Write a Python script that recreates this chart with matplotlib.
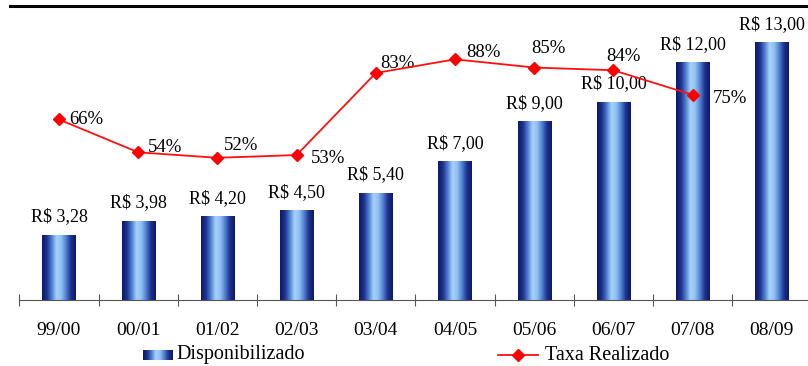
import numpy as np
import matplotlib

matplotlib.use("Agg")
import matplotlib.pyplot as plt
from matplotlib.colors import LinearSegmentedColormap
from matplotlib.lines import Line2D

plt.rcParams['font.family'] = ['Liberation Serif', 'DejaVu Serif']

# data
periods = ['99/00', '00/01', '01/02', '02/03', '03/04', '04/05', '05/06', '06/07', '07/08', '08/09']
disponibilizado = [3.28, 3.98, 4.20, 4.50, 5.40, 7.00, 9.00, 10.00, 12.00, 13.00]
taxa_realizado = [0.66, 0.54, 0.52, 0.53, 0.83, 0.88, 0.85, 0.84, 0.75]

# label offsets (pixels) for the percentage labels
pct_offsets = [(10, 0), (10, 5), (6, 12), (14, -3), (4, 10), (11, 7), (-3, 19), (-7, 14), (20, -4)]

gradient = LinearSegmentedColormap.from_list(
    'bar', ['#0e1868', '#1e3290', '#4f7fd0', '#a8d2fa', '#8fbff2', '#4f7fd0', '#1e3290', '#0e1868'])

fig = plt.figure(figsize=(8.08, 3.66), dpi=100)
ax = fig.add_axes([19.4 / 808, 1 - 300 / 366, 1 - 19.4 / 808, 294 / 366])

x = np.arange(len(periods))
width = 0.42

grad = np.linspace(0, 1, 64).reshape(1, -1)
bars = ax.bar(x, disponibilizado, width, color='none', edgecolor='none')
for b, v in zip(bars, disponibilizado):
    x0 = b.get_x()
    ax.imshow(grad, cmap=gradient, aspect='auto', extent=(x0, x0 + width, 0, v),
              zorder=2, interpolation='bicubic')
    ax.annotate('R$ ' + f'{v:.2f}'.replace('.', ','), (b.get_x() + width / 2, v),
                xytext=(0, 7), textcoords='offset points', ha='center', va='bottom',
                fontsize=13)
ax.set_xlim(-0.5, 9.457)
ax.set_ylim(0, 14.85)

for s in ['top', 'right', 'left']:
    ax.spines[s].set_visible(False)
ax.spines['bottom'].set_color('#555555')
ax.set_yticks([])
ax.set_xticks(np.arange(-0.5, 9.5, 1))
ax.set_xticklabels([])
ax.set_xticks(x, minor=True)
ax.set_xticklabels(periods, minor=True, fontsize=14)
ax.tick_params(axis='x', which='major', direction='inout', length=9, color='#555555')
ax.tick_params(axis='x', which='minor', length=0, pad=16)

ax2 = ax.twinx()
ax2.set_ylim(0, 1.075)
ax2.axis('off')
xl = x[:len(taxa_realizado)]
ax2.plot(xl, taxa_realizado, color='#ff1010', lw=1.3, marker='D', markersize=6,
         markerfacecolor='#ff0000', markeredgecolor='#ff0000', zorder=5)
for xi, t, (dx, dy) in zip(xl, taxa_realizado, pct_offsets):
    ax2.annotate(f'{t * 100:.0f}%', (xi, t), xytext=(dx * 0.72, dy * 0.72),
                 textcoords='offset points', ha='left', va='center', fontsize=13.5)

# top border line
fig.add_artist(Line2D([10 / 808, 1], [1 - 6 / 366, 1 - 6 / 366], color='black', lw=2.2))

# legend
lg = fig.add_axes([143 / 808, 1 - 360 / 366, 30 / 808, 10 / 366])
lg.imshow(grad, cmap=gradient, aspect='auto', interpolation='bicubic')
lg.axis('off')
fig.text(176 / 808, 1 - 355 / 366, 'Disponibilizado', ha='left', va='center', fontsize=14.5)
fig.add_artist(Line2D([498 / 808, 538 / 808], [1 - 355 / 366, 1 - 355 / 366],
                      color='#ff1010', lw=1.3))
fig.add_artist(Line2D([518 / 808], [1 - 355 / 366], marker='D', markersize=6,
                      color='#ff0000'))
fig.text(545 / 808, 1 - 355 / 366, 'Taxa Realizado', ha='left', va='center', fontsize=14.5)

fig.savefig('out.png', dpi=100)
